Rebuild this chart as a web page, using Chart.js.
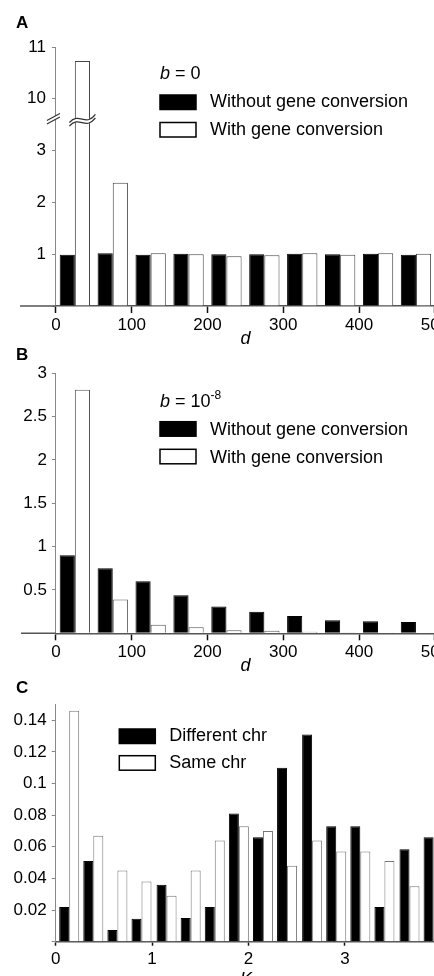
<!DOCTYPE html>
<html>
<head>
<meta charset="utf-8">
<script src="https://cdn.jsdelivr.net/npm/chart.js@4.4.1/dist/chart.umd.min.js"></script>
<style>
html, body { margin: 0; padding: 0; background: #fff; }
#wrap { position: relative; width: 434px; height: 976px; overflow: hidden; }
canvas { position: absolute; left: 0; }
</style>
</head>
<body>
<div id="wrap">
<canvas id="chartA" width="480" height="350" style="top:0px"></canvas>
<canvas id="chartB" width="480" height="332" style="top:345px"></canvas>
<canvas id="chartC" width="480" height="320" style="top:675px"></canvas>
</div>
<script>
// d bins (panels A and B)
var dBins = [25, 75, 125, 175, 225, 275, 325, 375, 425, 475];
// A: b = 0
var aWithout = [0.99, 1.02, 0.99, 1.01, 1.00, 1.00, 1.01, 1.00, 1.01, 0.99];
var aWith = [10.73, 2.38, 1.02, 1.00, 0.96, 0.98, 1.02, 0.99, 1.02, 1.01];
// B: b = 10^-8
var bWithout = [0.90, 0.75, 0.60, 0.44, 0.31, 0.25, 0.20, 0.15, 0.14, 0.13];
var bWith = [2.81, 0.39, 0.10, 0.07, 0.035, 0.03, 0.018, 0.008, 0.004, 0.003];
// C: Ks distribution
var ksBins = [0.14, 0.39, 0.64, 0.89, 1.15, 1.40, 1.65, 1.90, 2.15, 2.40, 2.66, 2.91, 3.16, 3.41, 3.67, 3.92];
var cDiff = [0.022, 0.051, 0.0074, 0.0145, 0.036, 0.015, 0.022, 0.081, 0.066, 0.110, 0.131, 0.073, 0.073, 0.022, 0.0585, 0.066];
var cSame = [0.146, 0.067, 0.045, 0.038, 0.029, 0.045, 0.064, 0.073, 0.070, 0.048, 0.064, 0.057, 0.057, 0.051, 0.035, null];

const FONT = '"Liberation Sans", Arial, sans-serif';
Chart.defaults.font.family = FONT;
Chart.defaults.font.size = 17;
Chart.defaults.color = '#000';

function pts(xs, ys, f) {
  return xs.map((x, i) => ({x: x, y: (f && ys[i] != null) ? f(ys[i]) : ys[i]}));
}

function drawRich(ctx, x, y, segs) {
  segs.forEach(s => {
    const size = s.sup ? 12 : 18;
    ctx.font = (s.it ? 'italic ' : '') + size + 'px ' + FONT;
    ctx.fillText(s.t, x, y - (s.sup ? 8 : 0));
    x += ctx.measureText(s.t).width;
  });
}

const decor = {
  id: 'decor',
  afterDraw(chart, args, o) {
    const ctx = chart.ctx, ca = chart.chartArea, t = o.top;
    ctx.save();
    ctx.textBaseline = 'alphabetic';
    ctx.fillStyle = '#000';
    ctx.font = 'bold 17px ' + FONT;
    ctx.fillText(o.letter, 16, o.letterY - t);
    if (o.header) drawRich(ctx, o.boxX, o.header.y - t, o.header.segs);
    chart.data.datasets.forEach((ds, i) => {
      const it = o.items[i];
      ctx.fillStyle = ds.backgroundColor;
      ctx.fillRect(o.boxX, it.box - t, 36, 14.5);
      ctx.lineWidth = 1.5;
      ctx.strokeStyle = '#000';
      ctx.strokeRect(o.boxX, it.box - t, 36, 14.5);
      ctx.fillStyle = '#000';
      ctx.font = '18px ' + FONT;
      ctx.fillText(ds.label, o.boxX + 50, it.base - t);
    });
    if (o.baseFrom != null) {
      ctx.strokeStyle = '#555';
      ctx.lineWidth = 1.5;
      ctx.beginPath();
      ctx.moveTo(o.baseFrom, ca.bottom);
      ctx.lineTo(ca.left, ca.bottom);
      ctx.stroke();
    }
    if (o.brk != null) {
      const yb = chart.scales.y.getPixelForValue(o.brk);
      const ax = ca.left - 2;
      ctx.fillStyle = '#fff';
      ctx.beginPath();
      ctx.moveTo(ax - 7, yb + 2); ctx.lineTo(ax + 6, yb - 5);
      ctx.lineTo(ax + 6, yb - 1.5); ctx.lineTo(ax - 7, yb + 5.5);
      ctx.closePath(); ctx.fill();
      ctx.strokeStyle = '#333';
      ctx.lineWidth = 1.2;
      ctx.beginPath();
      ctx.moveTo(ax - 7, yb + 2); ctx.lineTo(ax + 6, yb - 5);
      ctx.moveTo(ax - 7, yb + 5.5); ctx.lineTo(ax + 6, yb - 1.5);
      ctx.stroke();
      const bar = chart.getDatasetMeta(1).data[0];
      const x0 = bar.x - 13, x1 = bar.x + 13;
      const wave = dy => {
        ctx.moveTo(x0, yb + 4 + dy);
        ctx.bezierCurveTo(x0 + 10, yb - 7 + dy, x0 + 16, yb + 9 + dy, x1, yb - 4 + dy);
      };
      ctx.strokeStyle = '#fff'; ctx.lineWidth = 4;
      ctx.beginPath(); wave(1.75); ctx.stroke();
      ctx.strokeStyle = '#333'; ctx.lineWidth = 1.2;
      ctx.beginPath(); wave(0); wave(3.5); ctx.stroke();
    }
    if (o.ks) {
      ctx.fillStyle = '#000';
      ctx.font = 'italic 18px ' + FONT;
      ctx.fillText('K', o.ks.x, o.ks.y - t);
      const w = ctx.measureText('K').width;
      ctx.font = 'italic 12px ' + FONT;
      ctx.fillText('s', o.ks.x + w, o.ks.y - t + 4);
    }
    ctx.restore();
  }
};

function barSet(label, data, black, edge) {
  return {
    label: label,
    data: data,
    backgroundColor: black ? '#000' : '#fff',
    borderColor: black ? '#000' : edge,
    borderWidth: 1,
    categoryPercentage: 0.8,
    barPercentage: 1
  };
}

function baseOpts(c) {
  return {
    responsive: false,
    animation: false,
    events: [],
    layout: {padding: {left: 0, right: c.W - c.right, top: c.top, bottom: 0}},
    plugins: {legend: {display: false}, tooltip: {enabled: false}, decor: c.decor},
    scales: {
      x: {
        type: 'linear', min: 0, max: c.xmax, offset: false,
        ticks: {stepSize: c.xstep, padding: c.xpad, maxRotation: 0, autoSkip: false},
        grid: {drawOnChartArea: false, offset: false, tickLength: c.xtick, tickColor: '#111', tickWidth: 1.5},
        border: {color: '#555', width: 1.5},
        title: c.xtitle ? {display: true, text: c.xtitle, font: {size: 18, style: 'italic'}, padding: 0} : {display: false},
        afterFit: s => { s.height = c.H - c.bottom; }
      },
      y: {
        min: 0, max: c.ymax,
        ticks: {stepSize: c.ystep, padding: c.ypad, includeBounds: false, callback: c.ycb},
        grid: {drawOnChartArea: false, tickLength: 4, tickColor: '#888'},
        border: {color: '#888', width: 1, dash: c.dash},
        afterFit: s => { s.width = c.left; }
      }
    }
  };
}

// A: broken axis, values above the break are shifted down by 6
const brkShift = v => v > 3.6 ? v - 6 : v;
new Chart('chartA', {
  type: 'bar',
  data: {datasets: [
    barSet('Without gene conversion', pts(dBins, aWithout), true),
    barSet('With gene conversion', pts(dBins, aWith, brkShift), false, '#444')
  ]},
  options: baseOpts({
    W: 480, H: 350, left: 55.9, right: 434.9, top: 47, bottom: 306,
    xmax: 500, xstep: 100, xpad: 2, xtick: 7, xtitle: 'd',
    ymax: 5, ystep: 1, ypad: 6, dash: [2, 2],
    ycb: v => v === 0 ? '' : (v > 3 ? v + 6 : v),
    decor: {
      top: 0, letter: 'A', letterY: 28, boxX: 160,
      header: {y: 79, segs: [{t: 'b', it: 1}, {t: ' = 0'}]},
      items: [{box: 95, base: 107.4}, {box: 122.5, base: 134.7}],
      baseFrom: 20, brk: 3.62
    }
  }),
  plugins: [decor]
});

new Chart('chartB', {
  type: 'bar',
  data: {datasets: [
    barSet('Without gene conversion', pts(dBins, bWithout), true),
    barSet('With gene conversion', pts(dBins, bWith), false, '#555')
  ]},
  options: baseOpts({
    W: 480, H: 332, left: 55.9, right: 434.9, top: 28.3, bottom: 288.3,
    xmax: 500, xstep: 100, xpad: 2, xtick: 7, xtitle: 'd',
    ymax: 3, ystep: 0.5, ypad: 5, dash: [],
    ycb: v => v === 0 ? '' : v,
    decor: {
      top: 345, letter: 'B', letterY: 360, boxX: 160,
      header: {y: 407.3, segs: [{t: 'b', it: 1}, {t: ' = 10'}, {t: '-8', sup: 1}]},
      items: [{box: 421.7, base: 435}, {box: 449.3, base: 462.7}],
      baseFrom: 21
    }
  }),
  plugins: [decor]
});

const chartC = new Chart('chartC', {
  type: 'bar',
  data: {datasets: [
    barSet('Different chr', pts(ksBins, cDiff), true),
    barSet('Same chr', pts(ksBins, cSame), false, '#777')
  ]},
  options: baseOpts({
    W: 480, H: 320, left: 55.7, right: 441.3, top: 29.4, bottom: 266.7,
    xmax: 4, xstep: 1, xpad: 3, xtick: 4, xtitle: null,
    ymax: 0.15, ystep: 0.02, ypad: 5, dash: [2, 2],
    ycb: v => v === 0 ? '' : String(+v.toFixed(2)),
    decor: {
      top: 675, letter: 'C', letterY: 693.3, boxX: 119.3,
      items: [{box: 729, base: 740.7}, {box: 755.7, base: 768}],
      ks: {x: 240, y: 984.6}
    }
  }),
  plugins: [decor]
});
chartC.data.datasets.forEach(ds => { ds.categoryPercentage = 0.83; });
chartC.update();
</script>
</body>
</html>
